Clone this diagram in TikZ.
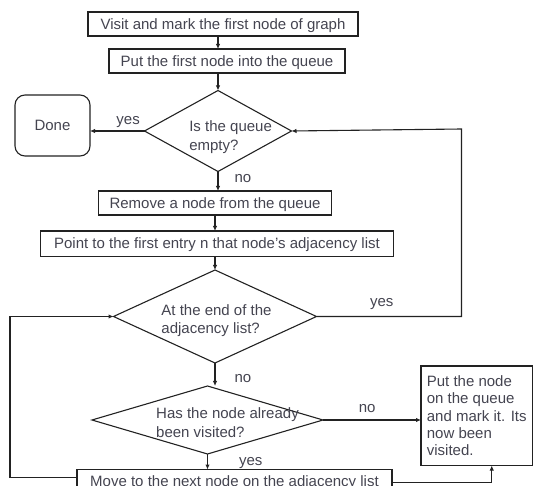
\documentclass[tikz,border=0pt]{standalone}
\usepackage{fontspec}
\setmainfont{Liberation Sans}
\usepackage{tikz}
\usetikzlibrary{shapes.geometric,arrows.meta,positioning}
\definecolor{inkline}{RGB}{34,34,34}
\definecolor{inktext}{RGB}{68,68,80}

\begin{document}
\begin{tikzpicture}[
  x=1pt, y=-1pt,
  line width=1.1pt,
  every node/.style={text=inktext, outer sep=0pt, font=\fontsize{15}{18.5}\selectfont},
  box/.style={draw=inkline, minimum height=24pt, text height=11pt, text depth=0.5pt, inner xsep=3pt},
  notebox/.style={draw=inkline, align=left, inner sep=3pt, font=\fontsize{15}{17.3}\selectfont},
  gate/.style={draw=inkline, diamond, inner sep=0pt},
  endbox/.style={draw=inkline, rounded corners=10pt, minimum width=75pt, minimum height=61pt},
  lbl/.style={inner sep=1pt},
  arr/.style={draw=inkline, -{Latex[length=5pt,width=4.5pt]}}
]
\useasboundingbox (0,0) rectangle (533,486);
\clip (0,0) rectangle (533,486);

\node[box, minimum width=270pt] (visit) at (223,24) {Visit and mark the first node of graph};
\node[box, minimum width=236pt, below=13pt of visit, xshift=4pt] (put) {Put the first node into the queue};
\node[gate, minimum width=147pt, minimum height=81pt, below=17.5pt of put, xshift=-9pt,
  label={[align=left, xshift=12.6pt, yshift=-6pt]center:Is the queue\\empty?}] (empty) {};
\node[endbox, left=54.5pt of empty, yshift=5.5pt] (done) {Done};
\node[box, minimum width=233pt, below=19.5pt of empty, xshift=-3pt] (remove) {Remove a node from the queue};
\node[box, minimum width=353pt, minimum height=25.5pt, below=16pt of remove, xshift=2pt] (point) {Point to the first entry n that node's adjacency list};
\node[gate, minimum width=203pt, minimum height=93pt, below=13.5pt of point, xshift=-2pt,
  label={[align=left, xshift=1.5pt, yshift=-4.3pt]center:At the end of the\\adjacency list?}] (endlist) {};
\node[gate, minimum width=231pt, minimum height=68pt, below=23pt of endlist, xshift=-7.5pt,
  label={[align=left, xshift=20pt, yshift=-2.5pt]center:Has the node already\\been visited?}] (visited) {};
\node[notebox, minimum width=111.5pt, minimum height=99.5pt, right=98pt of visited, yshift=4.25pt] (enqueue) {Put the node\\on the queue\\and mark it. Its\\now been\\visited.};
\node[box, minimum width=315pt, below=15.5pt of visited, xshift=27pt] (move) {Move to the next node on the adjacency list};

\draw[arr] (visit.south -| empty.north) -- (put.north -| empty.north);
\draw[arr] (put.south -| empty.north) -- (empty.north);
\draw[arr] (empty.west) -- node[lbl, above=2pt, pos=0.3]{yes} (empty.west -| done.east);
\draw[arr] (empty.south) -- node[lbl, right=15.5pt, pos=0.35]{no} (empty.south |- remove.north);
\draw[arr] (remove.south) -- (remove.south |- point.north);
\draw[arr] (point.south -| endlist.north) -- (endlist.north);
\draw[arr] (endlist.south) -- node[lbl, right=18.5pt, pos=0.66]{no} (endlist.south |- visited.north);
\draw[arr] (visited.south) -- node[lbl, right=30.5pt, pos=0.6]{yes} (visited.south |- move.north);
\draw[arr] (visited.east) -- node[lbl, above=6pt, pos=0.45]{no} (visited.east -| enqueue.west);
\draw[arr] ([yshift=-12.8pt]move.north east) -| ([xshift=15pt]enqueue.south);
\draw[arr] ([yshift=-8.2pt]move.north west) -| ([xshift=-103.5pt]endlist.west) -- (endlist.west);
\draw[arr] (endlist.east) -- node[lbl, above=5.4pt, pos=0.45]{yes} ([xshift=145pt]endlist.east)
  -- ([xshift=170pt, yshift=2pt]empty.east) -- (empty.east);
\end{tikzpicture}
\end{document}
